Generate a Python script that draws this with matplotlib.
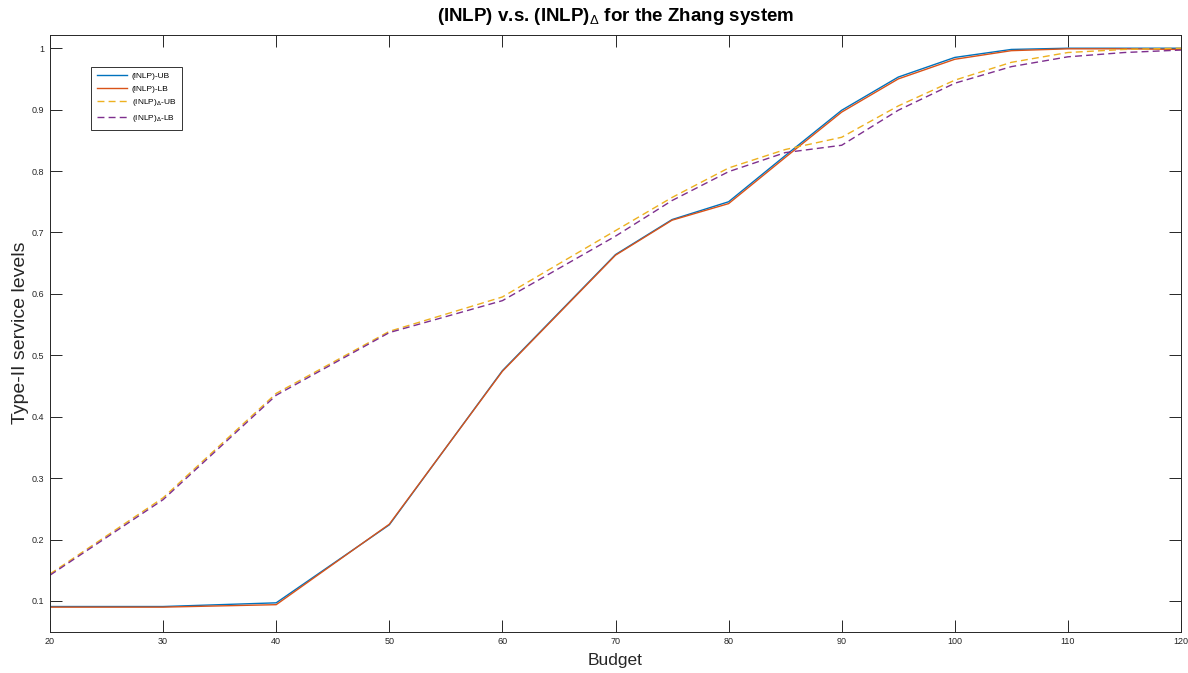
import numpy as np
import matplotlib.pyplot as plt

plt.rcParams['font.family'] = ['Liberation Sans', 'DejaVu Sans']
plt.rcParams['mathtext.fontset'] = 'custom'
plt.rcParams['mathtext.rm'] = 'Liberation Sans'
plt.rcParams['mathtext.bf'] = 'Liberation Sans:bold'

budget = [20, 30, 40, 50, 60, 70, 75, 80, 85, 90, 95, 100, 105, 110, 115, 120]
inlp_ub = [0.091, 0.091, 0.097, 0.224, 0.475, 0.664, 0.721, 0.750, 0.825, 0.899,
           0.953, 0.985, 0.998, 1.000, 1.000, 1.000]
inlp_lb = [0.090, 0.090, 0.094, 0.225, 0.474, 0.663, 0.720, 0.747, 0.822, 0.896,
           0.950, 0.982, 0.996, 0.999, 0.999, 0.998]
delta_ub = [0.144, 0.268, 0.438, 0.539, 0.595, 0.703, 0.757, 0.805, 0.835, 0.855,
            0.906, 0.948, 0.977, 0.993, 0.998, 1.000]
delta_lb = [0.142, 0.265, 0.435, 0.537, 0.589, 0.694, 0.752, 0.799, 0.830, 0.842,
            0.899, 0.943, 0.970, 0.986, 0.993, 0.997]

fig = plt.figure(figsize=(11.88, 6.73), dpi=100)
ax = fig.add_axes([50/1188, 1-631.7/673, 1131/1188, 597/673])

ax.plot(budget, inlp_ub, color='#0072BD', lw=1.0, label='(INLP)-UB')
ax.plot(budget, inlp_lb, color='#D95319', lw=1.0, label='(INLP)-LB')
ax.plot(budget, delta_ub, color='#EDB120', lw=1.0, ls=(0, (5, 3)), label=r'(INLP)$_\Delta$-UB')
ax.plot(budget, delta_lb, color='#7E2F8E', lw=1.0, ls=(0, (5, 3)), label=r'(INLP)$_\Delta$-LB')

ax.set_xlim(20, 120)
ax.set_ylim(0.05, 1.022)
ax.set_xticks(np.arange(20, 121, 10))
ax.set_yticks(np.arange(0.1, 1.01, 0.1))
ax.set_yticklabels(['0.1', '0.2', '0.3', '0.4', '0.5', '0.6', '0.7', '0.8', '0.9', '1'])

ax.tick_params(direction='in', length=8.6, width=0.7, colors='#262626',
               labelsize=6.5, top=True, right=True, pad=4)
for s in ax.spines.values():
    s.set_color('#262626')
    s.set_linewidth(0.7)

ax.set_xlabel('Budget', fontsize=12.5, color='#262626', labelpad=5)
ax.set_ylabel('Type-II service levels', fontsize=14, color='#262626', labelpad=2)
ax.set_title(r'(INLP) v.s. (INLP)$_\Delta$ for the Zhang system',
             fontsize=13.5, fontweight='bold', pad=10)

leg = ax.legend(loc='upper left', bbox_to_anchor=(0.0363, 0.9464), borderaxespad=0,
                fontsize=6, frameon=True, fancybox=False, handlelength=3.6,
                labelspacing=0.55, borderpad=0.7, handletextpad=0.6)
leg.get_frame().set_edgecolor('black')
leg.get_frame().set_linewidth(0.7)

fig.savefig('out.png', dpi=100)
